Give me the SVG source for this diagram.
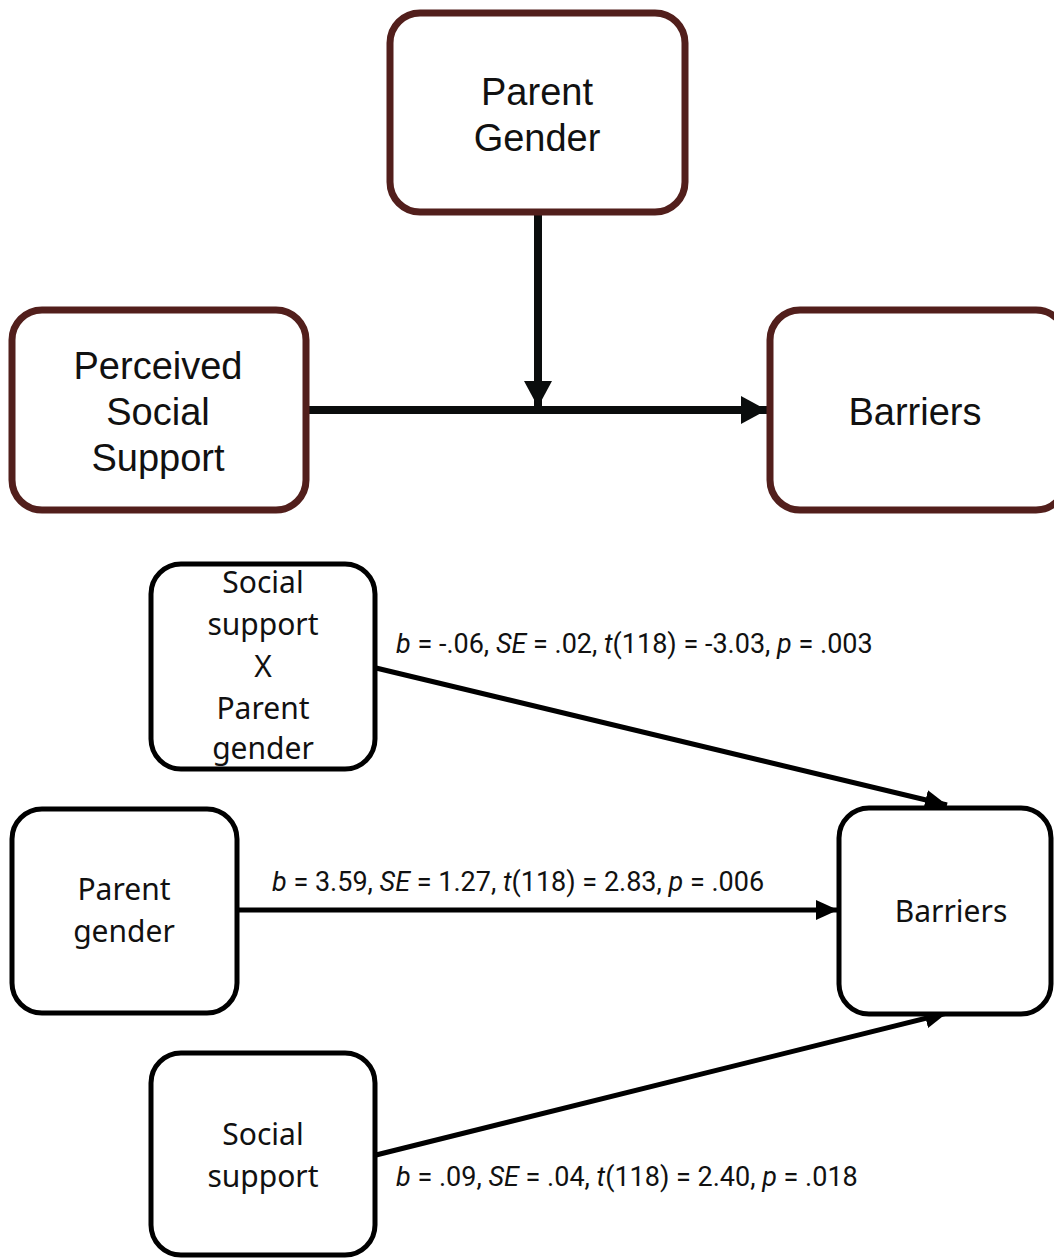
<svg xmlns="http://www.w3.org/2000/svg" width="1054" height="1259" viewBox="0 0 1054 1259">
  <style>
    .top { fill: #ffffff; stroke: #521f1c; stroke-width: 7; }
    .bot { fill: #ffffff; stroke: #000000; stroke-width: 5; }
    .tt { font-family: "Liberation Sans", Arial, sans-serif; font-size: 38px; fill: #111111; text-anchor: middle; }
    .bt { font-family: "Noto Sans", "Open Sans", sans-serif; font-size: 30px; fill: #111111; text-anchor: middle; }
    .lbl { font-family: Roboto, "Liberation Sans", sans-serif; font-size: 27px; fill: #111111; }
    .it { font-style: italic; }
    .c1 { stroke: #0a0d0d; stroke-width: 8; fill: none; }
    .c2 { stroke: #000000; stroke-width: 5; fill: none; }
  </style>
  <defs>
    <marker id="ahBig" markerUnits="userSpaceOnUse" markerWidth="26" markerHeight="28" refX="26" refY="14" orient="auto">
      <path d="M0,0 L26,14 L0,28 z" fill="#0a0d0d"/>
    </marker>
    <marker id="ahSmall" markerUnits="userSpaceOnUse" markerWidth="22" markerHeight="20" refX="22" refY="10" orient="auto">
      <path d="M0,0 L22,10 L0,20 z" fill="#000000"/>
    </marker>
  </defs>
  <rect width="1054" height="1259" fill="#ffffff"/>

  <g id="connectors">
    <line class="c1" x1="538" y1="214" x2="538" y2="407" marker-end="url(#ahBig)"/>
    <line class="c1" x1="308" y1="410" x2="767" y2="410" marker-end="url(#ahBig)"/>
    <line class="c2" x1="376" y1="668" x2="947" y2="805" marker-end="url(#ahSmall)"/>
    <line class="c2" x1="238" y1="910" x2="838" y2="910" marker-end="url(#ahSmall)"/>
    <line class="c2" x1="376" y1="1155" x2="947" y2="1013" marker-end="url(#ahSmall)"/>
  </g>

  <g id="parent-gender-top">
    <rect class="top" x="390" y="13" width="295" height="199" rx="30"/>
    <text class="tt" x="537" y="105">Parent</text>
    <text class="tt" x="537" y="151">Gender</text>
  </g>
  <g id="perceived-social-support">
    <rect class="top" x="12" y="310" width="294" height="200" rx="30"/>
    <text class="tt" x="158" y="379">Perceived</text>
    <text class="tt" x="158" y="425">Social</text>
    <text class="tt" x="158" y="471">Support</text>
  </g>
  <g id="barriers-top">
    <rect class="top" x="770" y="310" width="296" height="200" rx="30"/>
    <text class="tt" x="915" y="425">Barriers</text>
  </g>

  <g id="interaction">
    <rect class="bot" x="151" y="564" width="224" height="205" rx="30"/>
    <text class="bt" x="263" y="593">Social</text>
    <text class="bt" x="263" y="635">support</text>
    <text class="bt" x="263" y="677">X</text>
    <text class="bt" x="263" y="719">Parent</text>
    <text class="bt" x="263" y="759">gender</text>
  </g>
  <g id="parent-gender">
    <rect class="bot" x="12" y="809" width="225" height="204" rx="30"/>
    <text class="bt" x="124" y="900">Parent</text>
    <text class="bt" x="124" y="942">gender</text>
  </g>
  <g id="social-support">
    <rect class="bot" x="151" y="1053" width="224" height="202" rx="30"/>
    <text class="bt" x="263" y="1145">Social</text>
    <text class="bt" x="263" y="1187">support</text>
  </g>
  <g id="barriers">
    <rect class="bot" x="839" y="808" width="212" height="206" rx="30"/>
    <text class="bt" x="951" y="922">Barriers</text>
  </g>

  <g id="labels">
    <text class="lbl" x="396" y="653"><tspan class="it">b</tspan> = -.06, <tspan class="it">SE</tspan> = .02, <tspan class="it">t</tspan>(118) = -3.03, <tspan class="it">p</tspan> = .003</text>
    <text class="lbl" x="272" y="891"><tspan class="it">b</tspan> = 3.59, <tspan class="it">SE</tspan> = 1.27, <tspan class="it">t</tspan>(118) = 2.83, <tspan class="it">p</tspan> = .006</text>
    <text class="lbl" x="396" y="1186"><tspan class="it">b</tspan> = .09, <tspan class="it">SE</tspan> = .04, <tspan class="it">t</tspan>(118) = 2.40, <tspan class="it">p</tspan> = .018</text>
  </g>
</svg>
